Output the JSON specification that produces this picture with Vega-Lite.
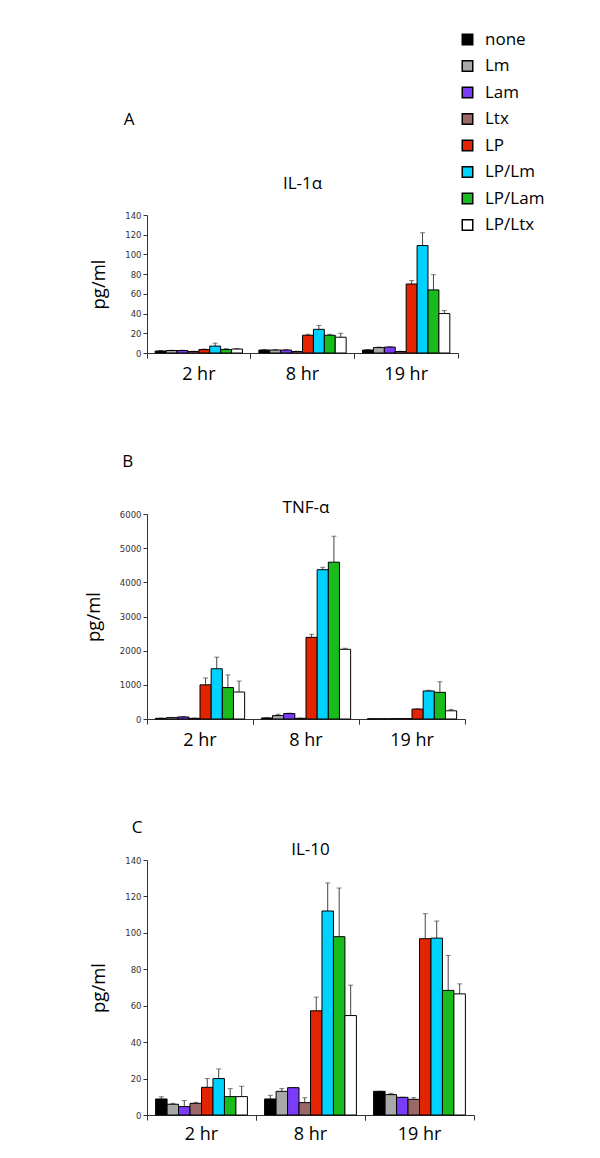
{
  "$schema": "https://vega.github.io/schema/vega-lite/v6.json",
  "padding": {"left": 84, "top": 31, "right": 0, "bottom": 0},
  "background": "white",
  "datasets": {
    "cyto": [
      {"panel": "A", "time": "2 hr", "treatment": "none", "value": 2, "hi": 2.5},
      {"panel": "A", "time": "2 hr", "treatment": "Lm", "value": 2.5, "hi": 2.8},
      {"panel": "A", "time": "2 hr", "treatment": "Lam", "value": 2.5, "hi": 2.8},
      {"panel": "A", "time": "2 hr", "treatment": "Ltx", "value": 1.5, "hi": 1.8},
      {"panel": "A", "time": "2 hr", "treatment": "LP", "value": 3.5, "hi": 4},
      {"panel": "A", "time": "2 hr", "treatment": "LP/Lm", "value": 7, "hi": 10},
      {"panel": "A", "time": "2 hr", "treatment": "LP/Lam", "value": 3.5, "hi": 4.5},
      {"panel": "A", "time": "2 hr", "treatment": "LP/Ltx", "value": 4, "hi": 4.5},
      {"panel": "A", "time": "8 hr", "treatment": "none", "value": 3, "hi": 3.5},
      {"panel": "A", "time": "8 hr", "treatment": "Lm", "value": 3, "hi": 3.5},
      {"panel": "A", "time": "8 hr", "treatment": "Lam", "value": 3, "hi": 3.5},
      {"panel": "A", "time": "8 hr", "treatment": "Ltx", "value": 1.5, "hi": 1.8},
      {"panel": "A", "time": "8 hr", "treatment": "LP", "value": 18, "hi": 19},
      {"panel": "A", "time": "8 hr", "treatment": "LP/Lm", "value": 24, "hi": 28},
      {"panel": "A", "time": "8 hr", "treatment": "LP/Lam", "value": 18, "hi": 19},
      {"panel": "A", "time": "8 hr", "treatment": "LP/Ltx", "value": 16, "hi": 20},
      {"panel": "A", "time": "19 hr", "treatment": "none", "value": 3, "hi": 3.5},
      {"panel": "A", "time": "19 hr", "treatment": "Lm", "value": 5.5, "hi": 6},
      {"panel": "A", "time": "19 hr", "treatment": "Lam", "value": 6, "hi": 6.3},
      {"panel": "A", "time": "19 hr", "treatment": "Ltx", "value": 1.5, "hi": 1.8},
      {"panel": "A", "time": "19 hr", "treatment": "LP", "value": 70, "hi": 73.5},
      {"panel": "A", "time": "19 hr", "treatment": "LP/Lm", "value": 109, "hi": 122},
      {"panel": "A", "time": "19 hr", "treatment": "LP/Lam", "value": 64, "hi": 79.5},
      {"panel": "A", "time": "19 hr", "treatment": "LP/Ltx", "value": 40, "hi": 43},
      {"panel": "B", "time": "2 hr", "treatment": "none", "value": 20, "hi": 25},
      {"panel": "B", "time": "2 hr", "treatment": "Lm", "value": 40, "hi": 45},
      {"panel": "B", "time": "2 hr", "treatment": "Lam", "value": 60, "hi": 70},
      {"panel": "B", "time": "2 hr", "treatment": "Ltx", "value": 20, "hi": 25},
      {"panel": "B", "time": "2 hr", "treatment": "LP", "value": 1000, "hi": 1200},
      {"panel": "B", "time": "2 hr", "treatment": "LP/Lm", "value": 1470, "hi": 1810},
      {"panel": "B", "time": "2 hr", "treatment": "LP/Lam", "value": 920, "hi": 1290},
      {"panel": "B", "time": "2 hr", "treatment": "LP/Ltx", "value": 790, "hi": 1110},
      {"panel": "B", "time": "8 hr", "treatment": "none", "value": 30, "hi": 40},
      {"panel": "B", "time": "8 hr", "treatment": "Lm", "value": 100, "hi": 140},
      {"panel": "B", "time": "8 hr", "treatment": "Lam", "value": 160, "hi": 170},
      {"panel": "B", "time": "8 hr", "treatment": "Ltx", "value": 20, "hi": 25},
      {"panel": "B", "time": "8 hr", "treatment": "LP", "value": 2390, "hi": 2480},
      {"panel": "B", "time": "8 hr", "treatment": "LP/Lm", "value": 4370, "hi": 4440},
      {"panel": "B", "time": "8 hr", "treatment": "LP/Lam", "value": 4590, "hi": 5350},
      {"panel": "B", "time": "8 hr", "treatment": "LP/Ltx", "value": 2040, "hi": 2070},
      {"panel": "B", "time": "19 hr", "treatment": "none", "value": 5, "hi": 6},
      {"panel": "B", "time": "19 hr", "treatment": "Lm", "value": 5, "hi": 6},
      {"panel": "B", "time": "19 hr", "treatment": "Lam", "value": 10, "hi": 12},
      {"panel": "B", "time": "19 hr", "treatment": "Ltx", "value": 10, "hi": 12},
      {"panel": "B", "time": "19 hr", "treatment": "LP", "value": 290, "hi": 300},
      {"panel": "B", "time": "19 hr", "treatment": "LP/Lm", "value": 820, "hi": 840},
      {"panel": "B", "time": "19 hr", "treatment": "LP/Lam", "value": 780, "hi": 1090},
      {"panel": "B", "time": "19 hr", "treatment": "LP/Ltx", "value": 240, "hi": 280},
      {"panel": "C", "time": "2 hr", "treatment": "none", "value": 8.8, "hi": 10},
      {"panel": "C", "time": "2 hr", "treatment": "Lm", "value": 5.9, "hi": 6.4},
      {"panel": "C", "time": "2 hr", "treatment": "Lam", "value": 4.6, "hi": 7.9},
      {"panel": "C", "time": "2 hr", "treatment": "Ltx", "value": 6.4, "hi": 7},
      {"panel": "C", "time": "2 hr", "treatment": "LP", "value": 15.2, "hi": 20},
      {"panel": "C", "time": "2 hr", "treatment": "LP/Lm", "value": 20, "hi": 25.3},
      {"panel": "C", "time": "2 hr", "treatment": "LP/Lam", "value": 10.1, "hi": 14.5},
      {"panel": "C", "time": "2 hr", "treatment": "LP/Ltx", "value": 10.1, "hi": 15.8},
      {"panel": "C", "time": "8 hr", "treatment": "none", "value": 8.8, "hi": 10.8},
      {"panel": "C", "time": "8 hr", "treatment": "Lm", "value": 13, "hi": 14.5},
      {"panel": "C", "time": "8 hr", "treatment": "Lam", "value": 15, "hi": 15},
      {"panel": "C", "time": "8 hr", "treatment": "Ltx", "value": 6.8, "hi": 9.5},
      {"panel": "C", "time": "8 hr", "treatment": "LP", "value": 57.2, "hi": 64.7},
      {"panel": "C", "time": "8 hr", "treatment": "LP/Lm", "value": 112, "hi": 127.4},
      {"panel": "C", "time": "8 hr", "treatment": "LP/Lam", "value": 97.9, "hi": 124.6},
      {"panel": "C", "time": "8 hr", "treatment": "LP/Ltx", "value": 54.6, "hi": 71.3},
      {"panel": "C", "time": "19 hr", "treatment": "none", "value": 13, "hi": 13},
      {"panel": "C", "time": "19 hr", "treatment": "Lm", "value": 11.2, "hi": 11.9},
      {"panel": "C", "time": "19 hr", "treatment": "Lam", "value": 9.7, "hi": 9.7},
      {"panel": "C", "time": "19 hr", "treatment": "Ltx", "value": 8.6, "hi": 9.5},
      {"panel": "C", "time": "19 hr", "treatment": "LP", "value": 96.8, "hi": 110.5},
      {"panel": "C", "time": "19 hr", "treatment": "LP/Lm", "value": 97.1, "hi": 106.5},
      {"panel": "C", "time": "19 hr", "treatment": "LP/Lam", "value": 68.4, "hi": 87.6},
      {"panel": "C", "time": "19 hr", "treatment": "LP/Ltx", "value": 66.5, "hi": 72}
    ]
  },
  "data": {"name": "cyto"},
  "spacing": 70,
  "resolve": {"scale": {"x": "independent", "y": "independent", "xOffset": "independent", "color": "shared"}, "legend": {"color": "shared"}},
  "vconcat": [
    {
      "title": {"text": "A", "anchor": "start", "dx": 34, "offset": 46},
      "vconcat": [
        {
          "width": 311, "height": 138,
          "title": {"text": "IL-1α", "offset": 18},
          "transform": [{"filter": "datum.panel === 'A'"}],
          "encoding": {
            "xOffset": {"field": "treatment", "type": "nominal", "sort": ["none", "Lm", "Lam", "Ltx", "LP", "LP/Lm", "LP/Lam", "LP/Ltx"], "scale": {"paddingInner": 0, "paddingOuter": 0.75}}
          },
          "resolve": {"axis": {"x": "independent"}},
          "layer": [
            {"mark": {"type": "rule", "color": "#444", "strokeWidth": 1}, "encoding": {
              "x": {"field": "time", "type": "nominal", "sort": ["2 hr", "8 hr", "19 hr"], "scale": {"paddingInner": 0, "paddingOuter": 0}, "axis": {"title": null, "orient": "bottom", "bandPosition": 0, "labelPadding": 7}},
              "y": {"field": "value", "type": "quantitative", "scale": {"domain": [0, 140]}, "axis": {"title": "pg/ml", "values": [0, 20, 40, 60, 80, 100, 120, 140], "tickCount": 20, "labelOverlap": false}}, "y2": {"field": "hi"}}},
            {"mark": {"type": "tick", "color": "#444", "thickness": 1, "size": 5, "orient": "horizontal"}, "encoding": {
              "x": {"field": "time", "type": "nominal", "sort": ["2 hr", "8 hr", "19 hr"], "axis": {"title": null, "orient": "bottom", "bandPosition": 1, "labels": false, "domain": false}},
              "y": {"field": "hi", "type": "quantitative"}}},
            {"mark": {"type": "bar", "stroke": "black", "strokeWidth": 1},
             "encoding": {
               "x": {"field": "time", "type": "nominal", "sort": ["2 hr", "8 hr", "19 hr"], "axis": null},
               "y": {"field": "value", "type": "quantitative"},
               "color": {"field": "treatment", "type": "nominal"}
             }}
          ]
        }
      ]
    },
    {
      "title": {"text": "B", "anchor": "start", "dx": 38, "offset": 28},
      "vconcat": [
        {
          "width": 318, "height": 205,
          "title": {"text": "TNF-α", "offset": -7},
          "transform": [{"filter": "datum.panel === 'B'"}],
          "encoding": {
            "xOffset": {"field": "treatment", "type": "nominal", "sort": ["none", "Lm", "Lam", "Ltx", "LP", "LP/Lm", "LP/Lam", "LP/Ltx"], "scale": {"paddingInner": 0, "paddingOuter": 0.75}}
          },
          "resolve": {"axis": {"x": "independent"}},
          "layer": [
            {"mark": {"type": "rule", "color": "#444", "strokeWidth": 1}, "encoding": {
              "x": {"field": "time", "type": "nominal", "sort": ["2 hr", "8 hr", "19 hr"], "scale": {"paddingInner": 0, "paddingOuter": 0}, "axis": {"title": null, "orient": "bottom", "bandPosition": 0, "labelPadding": 7}},
              "y": {"field": "value", "type": "quantitative", "scale": {"domain": [0, 6000]}, "axis": {"title": "pg/ml", "values": [0, 1000, 2000, 3000, 4000, 5000, 6000], "tickCount": 20, "format": "d", "labelOverlap": false}}, "y2": {"field": "hi"}}},
            {"mark": {"type": "tick", "color": "#444", "thickness": 1, "size": 5, "orient": "horizontal"}, "encoding": {
              "x": {"field": "time", "type": "nominal", "sort": ["2 hr", "8 hr", "19 hr"], "axis": {"title": null, "orient": "bottom", "bandPosition": 1, "labels": false, "domain": false}},
              "y": {"field": "hi", "type": "quantitative"}}},
            {"mark": {"type": "bar", "stroke": "black", "strokeWidth": 1},
             "encoding": {
               "x": {"field": "time", "type": "nominal", "sort": ["2 hr", "8 hr", "19 hr"], "axis": null},
               "y": {"field": "value", "type": "quantitative"},
               "color": {"field": "treatment", "type": "nominal"}
             }}
          ]
        }
      ]
    },
    {
      "title": {"text": "C", "anchor": "start", "dx": 42, "offset": 4},
      "vconcat": [
        {
          "width": 327, "height": 255,
          "title": {"text": "IL-10", "offset": -3},
          "transform": [{"filter": "datum.panel === 'C'"}],
          "encoding": {
            "xOffset": {"field": "treatment", "type": "nominal", "sort": ["none", "Lm", "Lam", "Ltx", "LP", "LP/Lm", "LP/Lam", "LP/Ltx"], "scale": {"paddingInner": 0, "paddingOuter": 0.75}}
          },
          "resolve": {"axis": {"x": "independent"}},
          "layer": [
            {"mark": {"type": "rule", "color": "#444", "strokeWidth": 1}, "encoding": {
              "x": {"field": "time", "type": "nominal", "sort": ["2 hr", "8 hr", "19 hr"], "scale": {"paddingInner": 0, "paddingOuter": 0}, "axis": {"title": null, "orient": "bottom", "bandPosition": 0, "labelPadding": 5}},
              "y": {"field": "value", "type": "quantitative", "scale": {"domain": [0, 140]}, "axis": {"title": "pg/ml", "values": [0, 20, 40, 60, 80, 100, 120, 140], "tickCount": 20, "labelOverlap": false}}, "y2": {"field": "hi"}}},
            {"mark": {"type": "tick", "color": "#444", "thickness": 1, "size": 5, "orient": "horizontal"}, "encoding": {
              "x": {"field": "time", "type": "nominal", "sort": ["2 hr", "8 hr", "19 hr"], "axis": {"title": null, "orient": "bottom", "bandPosition": 1, "labels": false, "domain": false}},
              "y": {"field": "hi", "type": "quantitative"}}},
            {"mark": {"type": "bar", "stroke": "black", "strokeWidth": 1},
             "encoding": {
               "x": {"field": "time", "type": "nominal", "sort": ["2 hr", "8 hr", "19 hr"], "axis": null},
               "y": {"field": "value", "type": "quantitative"},
               "color": {"field": "treatment", "type": "nominal",
                 "scale": {"domain": ["none", "Lm", "Lam", "Ltx", "LP", "LP/Lm", "LP/Lam", "LP/Ltx"], "range": ["#000000", "#a8a8a8", "#7a3cf7", "#9b6868", "#e32400", "#00d2ff", "#19bc1c", "#ffffff"]},
                 "legend": {"title": null, "orient": "none", "legendX": 312, "legendY": -184}}
             }}
          ]
        }
      ]
    }
  ],
  "config": {
    "view": {"stroke": null},
    "font": "Open Sans",
    "title": {"font": "Open Sans", "fontSize": 17, "fontWeight": "normal", "color": "black"},
    "axis": {"grid": false, "domainColor": "#333", "tickColor": "#333", "labelColor": "#333"},
    "axisY": {"labelFont": "DejaVu Sans", "labelFontSize": 8.5, "tickSize": 4, "titleFont": "Open Sans", "titleFontSize": 18.5, "titleFontWeight": "normal", "titleColor": "black", "titlePadding": 16},
    "axisX": {"labelFont": "Open Sans", "labelFontSize": 18, "labelColor": "black", "labelAngle": 0, "tickSize": 5, "domainColor": "#333"},
    "legend": {"symbolType": "square", "symbolSize": 110, "symbolStrokeColor": "black", "symbolStrokeWidth": 1.5, "labelFont": "Open Sans", "labelFontSize": 17, "labelColor": "black", "rowPadding": 8.5, "labelOffset": 9}
  }
}
